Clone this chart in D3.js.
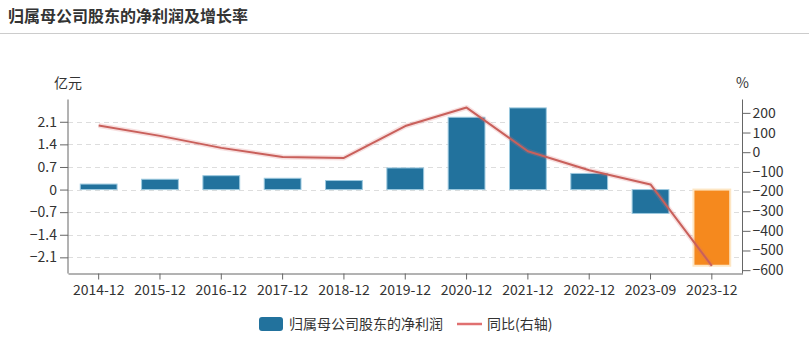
<!DOCTYPE html>
<html><head><meta charset="utf-8">
<script src="https://cdn.jsdelivr.net/npm/d3@7"></script>
<style>
body{margin:0;background:#fff;}
svg{display:block;font-family:"Noto Sans CJK SC","Noto Sans",sans-serif;}
</style></head>
<body>
<svg id="c" width="809" height="340"></svg>
<script>
const categories = ["2014-12","2015-12","2016-12","2017-12","2018-12","2019-12","2020-12","2021-12","2022-12","2023-09","2023-12"];
const profit = [0.17,0.32,0.43,0.35,0.28,0.67,2.24,2.53,0.50,-0.74,-2.36];
const growth = [136,83,22,-24,-29,133,227,5,-92,-164,-578];
const leftTicks = [-2.1,-1.4,-0.7,0,0.7,1.4,2.1];
const rightTicks = [-600,-500,-400,-300,-200,-100,0,100,200];

const svg = d3.select("#c");
const L = 68, R = 742.5, T = 99.5, B = 273.5;

svg.append("text").attr("x",8).attr("y",22).attr("font-size",16).attr("font-weight","bold")
  .attr("fill","#333").text("归属母公司股东的净利润及增长率");
svg.append("line").attr("x1",0).attr("x2",809).attr("y1",33.5).attr("y2",33.5).attr("stroke","#ccc");

const x = d3.scaleBand().domain(categories).range([L,R]).padding(0);
const y = d3.scaleLinear().domain([-2.60,2.79]).range([B,T]);
const y2 = d3.scaleLinear().domain([-617,268]).range([B,T]);

// grid
svg.append("g").selectAll("line").data(leftTicks).join("line")
  .attr("x1",L).attr("x2",R).attr("y1",d=>Math.round(y(d))+0.5).attr("y2",d=>Math.round(y(d))+0.5)
  .attr("stroke","#ddd").attr("stroke-dasharray","5,4");

// bars
const bw = x.bandwidth()*0.6;
svg.append("g").selectAll("rect").data(categories).join("rect")
  .attr("x",d=>x(d)+x.bandwidth()/2-bw/2)
  .attr("width",bw)
  .attr("y",(d,i)=>y(Math.max(0,profit[i])))
  .attr("height",(d,i)=>Math.abs(y(profit[i])-y(0)))
  .attr("fill",(d,i)=>i===categories.length-1?"#f5891e":"#22729d")
  .attr("stroke",(d,i)=>i===categories.length-1?"#fde6c4":"#9cc9df")
  .attr("stroke-width",(d,i)=>i===categories.length-1?2:1);

// line
const lineGen = d3.line().x((d,i)=>x(categories[i])+x.bandwidth()/2).y(d=>y2(d));
svg.append("path").datum(growth).attr("d",lineGen).attr("fill","none")
  .attr("stroke","rgba(220,110,110,0.22)").attr("stroke-width",5).attr("stroke-linejoin","round");
svg.append("path").datum(growth).attr("d",lineGen).attr("fill","none")
  .attr("stroke","#c9605b").attr("stroke-width",2).attr("stroke-linejoin","round");

// axes
const fmtL = d=>d===0?"0":d3.format(".1f")(d);
const gl = svg.append("g").attr("transform",`translate(${L},0)`)
  .call(d3.axisLeft(y).tickValues(leftTicks).tickSize(8).tickPadding(3).tickFormat(fmtL));
const gr = svg.append("g").attr("transform",`translate(${R},0)`)
  .call(d3.axisRight(y2).tickValues(rightTicks).tickSize(8).tickPadding(2));
const gx = svg.append("g").attr("transform",`translate(0,${B})`)
  .call(d3.axisBottom(x).tickSize(6).tickPadding(6).tickSizeOuter(0));
[gl,gr,gx].forEach(g=>{
  g.select(".domain").attr("stroke","#666");
  g.selectAll(".tick line").attr("stroke","#666");
  g.selectAll("text").attr("fill","#333").attr("font-size",14)
   .attr("font-family","'Noto Sans CJK SC','Noto Sans',sans-serif");
});
gl.select(".domain").attr("d",`M0,${T}V${B}`);
gr.select(".domain").attr("d",`M0,${T}V${B}`);

svg.append("text").attr("x",L).attr("y",88).attr("text-anchor","middle").attr("font-size",14).attr("fill","#333").text("亿元");
svg.append("text").attr("x",R).attr("y",88).attr("text-anchor","middle").attr("font-size",14).attr("fill","#333").text("%");

// legend
const lg = svg.append("g");
lg.append("rect").attr("x",259).attr("y",317).attr("width",24).attr("height",14).attr("rx",3).attr("fill","#22729d");
lg.append("text").attr("x",289).attr("y",329).attr("font-size",14).attr("fill","#333").text("归属母公司股东的净利润");
lg.append("line").attr("x1",457).attr("x2",482).attr("y1",324).attr("y2",324).attr("stroke","#e07070").attr("stroke-width",2.5);
lg.append("text").attr("x",487).attr("y",329).attr("font-size",14).attr("fill","#333").text("同比(右轴)");
</script>
</body></html>
